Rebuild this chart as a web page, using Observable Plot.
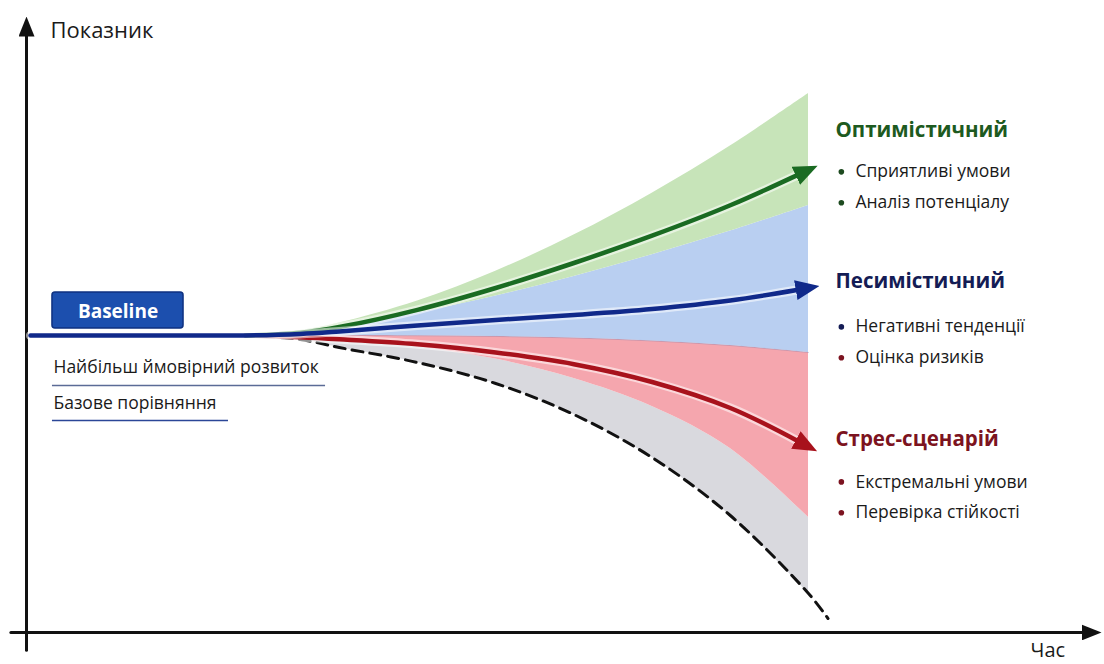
<!DOCTYPE html>
<html>
<head>
<meta charset="utf-8">
<script src="https://cdn.jsdelivr.net/npm/d3@7"></script>
<script src="https://cdn.jsdelivr.net/npm/@observablehq/plot@0.6"></script>
<style>
  body { margin: 0; background: #fff; }
  #chart svg { display: block; }
</style>
</head>
<body>
<div id="chart"></div>
<script>
// ---- Scenario fan: band boundaries over time (baseline level = 100) ----
const bandTime       = [2.8, 3.5, 4, 5, 6, 7, 8, 9, 10];
const optimisticHigh = [100, 101.65, 104.21, 111.65, 121.65, 133.80, 147.91, 163.80, 181.48];
const optimisticLow  = [100, 101.31, 103.03, 107.61, 113.30, 119.87, 127.17, 135.15, 143.77];
const pessimisticLow = [100, 100.0, 100.0, 99.92, 99.68, 99.16, 98.18, 96.63, 94.28];
const stressLow      = [100, 99.23, 98.42, 96.16, 92.09, 85.52, 76.09, 61.95, 38.72];

// ---- Central scenario paths ----
const pathTime        = [2.8, 3.5, 4, 5, 6, 7, 8, 9, 9.85];
const optimisticPath  = [100, 100.91, 102.86, 108.65, 116.0, 124.41, 133.6, 143.84, 153.91];
const pessimisticPath = [100, 100.51, 101.35, 103.37, 105.22, 106.90, 108.92, 111.78, 115.32];
const stressPath      = [100, 99.39, 98.72, 97.04, 94.28, 90.34, 84.34, 75.59, 64.65];
const baselineTime    = [0.05, 1, 2];
const baselinePath    = [100, 100, 100];

// ---- Extreme tail (dashed) ----
const tailTime  = [2.8, 3.5, 4, 5, 6, 7, 8, 9, 10, 10.25];
const tailPath  = [100, 98.65, 95.96, 90.91, 83.84, 73.40, 58.92, 39.39, 13.13, 4.71];

// ---- Texts ----
const axisTitles     = ["Показник", "Час"];
const baselineTitle  = "Baseline";
const baselineNotes  = ["Найбільш ймовірний розвиток", "Базове порівняння"];
const scenarioTitles = ["Оптимістичний", "Песимістичний", "Стрес-сценарій"];
const scenarioNotes  = [
  ["Сприятливі умови", "Аналіз потенціалу"],
  ["Негативні тенденції", "Оцінка ризиків"],
  ["Екстремальні умови", "Перевірка стійкості"]
];

// ---- Colours ----
const colors = {
  optBand: "#c7e4b9", pesBand: "#b9cff1", stressBand: "#f5a6ae", tailBand: "#d9d9de",
  optLine: "#1a6b22", pesLine: "#10298a", stressLine: "#a8121c",
  optTitle: "#1d5a20", pesTitle: "#141c55", stressTitle: "#7c1320",
  axis: "#111111", text: "#1a1a1a"
};
const noteBullets = [
  ["#1d4a1f", "#1d4a1f"],
  ["#141c55", "#7c1320"],
  ["#7c1320", "#7c1320"]
];

// ---- Tables built from the arrays ----
const bands = bandTime.map((t, i) => ({
  t,
  optHi: optimisticHigh[i], optLo: optimisticLow[i],
  pesLo: pessimisticLow[i], stressLo: stressLow[i],
  tail: tailPath[i]
}));
const series = (ts, vs) => ts.map((t, i) => ({t, v: vs[i]}));
const optLine = series(pathTime, optimisticPath);
const pesLine = series(baselineTime.concat(pathTime), baselinePath.concat(pessimisticPath));
const stressLine = series(pathTime, stressPath);
const tailLine = series(tailTime, tailPath);

// ---- Layout of annotations (in data units) ----
const labelT = {title: 10.345, bullet: 10.42, note: 10.60};
const titleV = [169.2, 118.3, 65.1];
const noteV = [[155.1, 144.7], [102.9, 92.5], [50.7, 40.3]];

const titleRows = scenarioTitles.map((text, i) => ({text, t: labelT.title, v: titleV[i],
  fill: [colors.optTitle, colors.pesTitle, colors.stressTitle][i]}));
const noteRows = scenarioNotes.flatMap((notes, i) => notes.map((text, j) => ({
  text, v: noteV[i][j], bullet: noteBullets[i][j]})));

// Filled triangular arrowhead marker
function arrowHead(len, half) {
  return (color) => {
    const m = d3.create("svg:marker")
      .attr("viewBox", `0 ${-half} ${len} ${2 * half}`)
      .attr("markerUnits", "userSpaceOnUse")
      .attr("markerWidth", len)
      .attr("markerHeight", 2 * half)
      .attr("refX", 1)
      .attr("refY", 0)
      .attr("orient", "auto");
    m.append("path")
      .attr("d", `M0,${-half}L${len},0L0,${half}Z`)
      .attr("fill", color)
      .attr("stroke", "none");
    return m.node();
  };
}

const curve = "catmull-rom";
const font = "'Open Sans', 'Noto Sans', sans-serif";

const chart = Plot.plot({
  width: 1104,
  height: 664,
  marginTop: 0, marginRight: 0, marginBottom: 0, marginLeft: 0,
  x: {domain: [-0.3325, 13.785], axis: null},
  y: {domain: [-10.775, 212.795], axis: null},
  style: {fontFamily: font, background: "#fff"},
  marks: [
    // fan bands
    Plot.areaY(bands, {x: "t", y1: "tail", y2: "stressLo", fill: colors.tailBand, curve}),
    Plot.areaY(bands, {x: "t", y1: "stressLo", y2: "pesLo", fill: colors.stressBand, curve}),
    Plot.areaY(bands, {x: "t", y1: "pesLo", y2: "optLo", fill: colors.pesBand, curve}),
    Plot.areaY(bands, {x: "t", y1: "optLo", y2: "optHi", fill: colors.optBand, curve}),
    Plot.lineY(bands, {x: "t", y: "pesLo", stroke: "#8c7fa8", strokeWidth: 0.8, strokeOpacity: 0.5, curve}),

    // axes
    Plot.line([{t: -0.2, v: 0}, {t: 13.504, v: 0}], {x: "t", y: "v", stroke: colors.axis, strokeWidth: 3, markerEnd: arrowHead(20, 8)}),
    Plot.line([{t: 0, v: -6}, {t: 0, v: 201}], {x: "t", y: "v", stroke: colors.axis, strokeWidth: 3, markerEnd: arrowHead(20, 8)}),

    // extreme tail
    Plot.line(tailLine, {x: "t", y: "v", stroke: "#111", strokeWidth: 3, strokeDasharray: "11,7", curve}),

    // scenario paths with a soft white halo
    ...[
      [stressLine, colors.stressLine],
      [optLine, colors.optLine],
      [pesLine, colors.pesLine]
    ].flatMap(([data, color]) => [
      Plot.line(data, {x: "t", y: "v", stroke: "#fff", strokeWidth: 9, strokeOpacity: 0.55, curve}),
      Plot.line(data, {x: "t", y: "v", stroke: color, strokeWidth: 4.5, curve, markerEnd: arrowHead(24, 10)})
    ]),

    // baseline label
    Plot.rect([baselineTitle], {x1: 0.332, x2: 2.008, y1: 102.36, y2: 114.48, fill: "#1c4fae", stroke: "#0e3180", strokeWidth: 1.5, rx: 3}),
    Plot.text([baselineTitle], {x: 1.17, y: 108.1, text: d => d, fill: "#fff", fontSize: 19, fontWeight: 700}),
    Plot.text(baselineNotes, {x: 0.345, y: (d, i) => [89.1, 77.0][i], text: d => d, textAnchor: "start", fill: colors.text, fontSize: 17.5}),
    Plot.ruleY(baselineNotes, {y: (d, i) => [83.16, 71.38][i], x1: 0.332, x2: (d, i) => [3.824, 2.583][i],
      stroke: (d, i) => ["#5b6b96", "#2b4697"][i], strokeWidth: 1.5}),

    // axis titles
    Plot.text([axisTitles[0]], {x: 0.307, y: 202.7, text: d => d, textAnchor: "start", fill: colors.text, fontSize: 22}),
    Plot.text([axisTitles[1]], {x: 12.84, y: -6.0, text: d => d, textAnchor: "start", fill: colors.text, fontSize: 20}),

    // scenario descriptions
    Plot.text(titleRows, {x: "t", y: "v", text: "text", fill: "fill", textAnchor: "start", fontSize: 20.5, fontWeight: 700}),
    Plot.dot(noteRows, {x: labelT.bullet, y: "v", r: 2.8, fill: "bullet", stroke: null}),
    Plot.text(noteRows, {x: labelT.note, y: "v", text: "text", textAnchor: "start", fill: colors.text, fontSize: 17.5})
  ]
});

document.getElementById("chart").append(chart);
</script>
</body>
</html>
